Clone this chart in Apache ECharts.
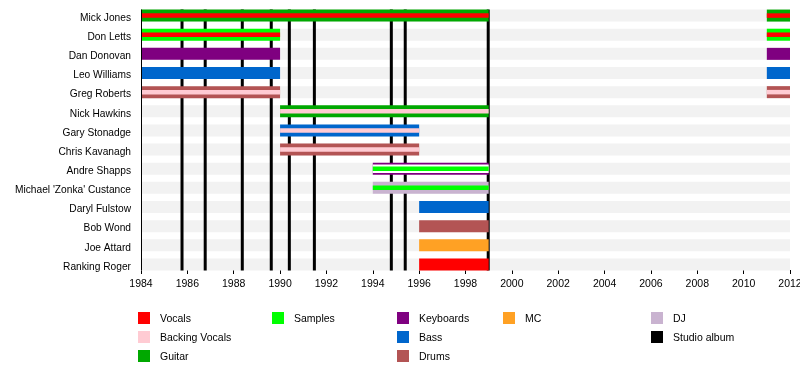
<!DOCTYPE html>
<html>
<head>
<meta charset="utf-8">
<script src="https://cdn.jsdelivr.net/npm/echarts@6/dist/echarts.min.js"></script>
<style>
html,body{margin:0;padding:0;background:#fff;}
#chart{width:800px;height:365px;}
</style>
</head>
<body>
<div id="chart"></div>
<script>
// ---- data ----
const members = ['Mick Jones','Don Letts','Dan Donovan','Leo Williams','Greg Roberts','Nick Hawkins','Gary Stonadge','Chris Kavanagh','Andre Shapps',"Michael 'Zonka' Custance",'Daryl Fulstow','Bob Wond','Joe Attard','Ranking Roger'];
const yearTicks = [1984,1986,1988,1990,1992,1994,1996,1998,2000,2002,2004,2006,2008,2010,2012];
// [member, start, end, main role, inner role]
const tenures = [
  ['Mick Jones',1984,1999,'Guitar','Vocals'],
  ['Mick Jones',2011,2012,'Guitar','Vocals'],
  ['Don Letts',1984,1990,'Samples','Vocals'],
  ['Don Letts',2011,2012,'Samples','Vocals'],
  ['Dan Donovan',1984,1990,'Keyboards',null],
  ['Dan Donovan',2011,2012,'Keyboards',null],
  ['Leo Williams',1984,1990,'Bass',null],
  ['Leo Williams',2011,2012,'Bass',null],
  ['Greg Roberts',1984,1990,'Drums','Backing Vocals'],
  ['Greg Roberts',2011,2012,'Drums','Backing Vocals'],
  ['Nick Hawkins',1990,1999,'Guitar','Backing Vocals'],
  ['Gary Stonadge',1990,1996,'Bass','Backing Vocals'],
  ['Chris Kavanagh',1990,1996,'Drums','Backing Vocals'],
  ['Andre Shapps',1994,1999,'Keyboards','Samples'],
  ["Michael 'Zonka' Custance",1994,1999,'DJ','Samples'],
  ['Daryl Fulstow',1996,1999,'Bass',null],
  ['Bob Wond',1996,1999,'Drums',null],
  ['Joe Attard',1996,1999,'MC',null],
  ['Ranking Roger',1996,1999,'Vocals',null]
];
const studioAlbums = [1985.77,1986.77,1988.37,1989.62,1990.40,1991.48,1994.80,1995.40,1998.98];
const legendColumns = [
  ['Vocals','Backing Vocals','Guitar'],
  ['Samples'],
  ['Keyboards','Bass','Drums'],
  ['MC'],
  ['DJ','Studio album']
];

// ---- styles ----
const roleColors = {
  'Vocals':'#ff0000','Backing Vocals':'#ffcbd3','Guitar':'#00a800','Samples':'#00ff00',
  'Keyboards':'#7f0080','Bass':'#0066cc','Drums':'#b35454','MC':'#ffa124','DJ':'#c9b3d0',
  'Studio album':'#000000'
};
const gapRoles = {'Andre Shapps':'#ffffff'};
const FONT = '"Liberation Sans", Arial, sans-serif';
const BAR_H = 12, INNER_H = 4.5, GAP_H = 8.5;
const xMin = yearTicks[0], xMax = yearTicks[yearTicks.length-1];

const chart = echarts.init(document.getElementById('chart'), null, {renderer:'canvas'});

function bandRender(params, api){
  const i = api.value(0);
  const a = api.coord([xMin, i]), b = api.coord([xMax, i]);
  return {type:'rect', shape:{x:a[0], y:a[1]-BAR_H/2, width:b[0]-a[0], height:BAR_H}, style:{fill:'#f2f2f2'}};
}
function albumRender(params, api){
  const v = api.value(0);
  const a = api.coord([v, 0]), b = api.coord([v, members.length-1]);
  return {type:'line', shape:{x1:a[0], y1:a[1]-BAR_H/2, x2:b[0], y2:b[1]+BAR_H/2}, style:{stroke:'#000', lineWidth:3}};
}
function frameRender(params, api){
  const a = api.coord([xMin, 0]), b = api.coord([xMin, members.length-1]);
  return {type:'line', shape:{x1:a[0]+0.5, y1:a[1]-BAR_H/2, x2:a[0]+0.5, y2:b[1]+BAR_H/2}, style:{stroke:'#000', lineWidth:1}};
}
function barRender(params, api){
  const t = tenures[params.dataIndex];
  const i = members.indexOf(t[0]);
  const a = api.coord([t[1], i]), b = api.coord([t[2], i]);
  const x = a[0], w = b[0]-a[0], c = a[1];
  const children = [{type:'rect', shape:{x:x, y:c-BAR_H/2, width:w, height:BAR_H}, style:{fill:roleColors[t[3]]}}];
  if (gapRoles[t[0]]) children.push({type:'rect', shape:{x:x, y:c-GAP_H/2, width:w, height:GAP_H}, style:{fill:gapRoles[t[0]]}});
  if (t[4]) children.push({type:'rect', shape:{x:x, y:c-INNER_H/2, width:w, height:INNER_H}, style:{fill:roleColors[t[4]]}});
  return {type:'group', children:children};
}

// legend as graphic
const colX = [138, 272, 397, 503, 651];
const rowY = [312, 331, 350];
const legendGraphics = [];
legendColumns.forEach((col, ci) => {
  col.forEach((name, ri) => {
    legendGraphics.push({type:'rect', left:colX[ci], top:rowY[ri], shape:{width:12, height:12}, style:{fill:roleColors[name]}});
    legendGraphics.push({type:'text', left:colX[ci]+22, top:rowY[ri]+2, style:{text:name, font:'10.5px '+FONT, fill:'#000'}});
  });
});

chart.setOption({
  animation:false,
  backgroundColor:'#fff',
  grid:{left:141, right:10, top:6, height:268, containLabel:false, outerBoundsMode:'none'},
  xAxis:{
    type:'value', min:xMin, max:xMax, interval:2, offset:-4,
    axisLine:{onZero:false, lineStyle:{color:'#000', width:1}},
    axisTick:{show:true, length:4, lineStyle:{color:'#000'}},
    axisLabel:{color:'#000', fontSize:10.5, fontFamily:FONT, margin:9, formatter:v=>String(v)},
    splitLine:{show:false}
  },
  yAxis:{
    type:'category', data:members, inverse:true,
    axisLine:{show:false}, axisTick:{show:false},
    axisLabel:{margin:10, formatter:v=>'{n|'+v+'}',
      rich:{n:{color:'#000', fontSize:10.2, fontFamily:FONT, padding:[5,0,0,0]}}},
    splitLine:{show:false}
  },
  series:[
    {type:'custom', name:'rows', z:1, renderItem:bandRender, data:members.map((m,i)=>[i]), silent:true},
    {type:'custom', name:'Studio album', z:2, renderItem:albumRender, data:studioAlbums.map(v=>[v]), silent:true},
    {type:'custom', name:'members', z:3, renderItem:barRender, data:tenures.map(t=>[t[1], members.indexOf(t[0]), t[2]]), encode:{x:[0,2], y:1}, silent:true},
    {type:'custom', name:'frame', z:4, renderItem:frameRender, data:[[xMin]], silent:true}
  ],
  graphic:legendGraphics
});
</script>
</body>
</html>
